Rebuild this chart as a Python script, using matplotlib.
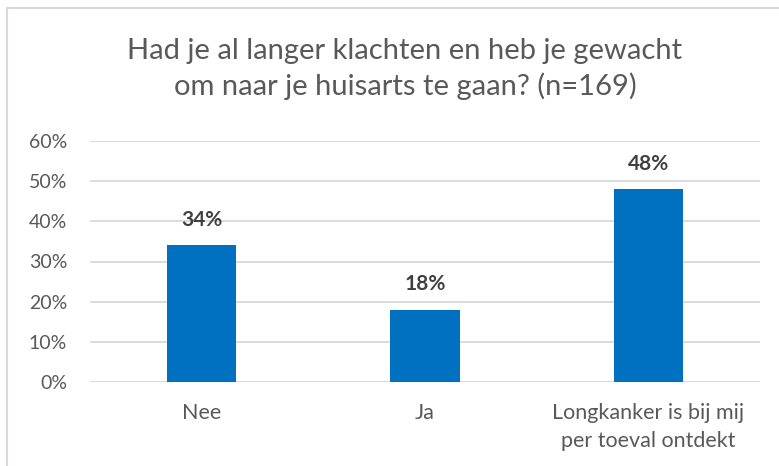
import matplotlib
matplotlib.use("Agg")
import matplotlib.pyplot as plt
from matplotlib.lines import Line2D

categories = ["Nee", "Ja", "Longkanker is bij mij\nper toeval ontdekt"]
values = [34, 18, 48]
value_labels = ["34%", "18%", "48%"]
yticks = [0, 10, 20, 30, 40, 50, 60]
ytick_labels = ["0%", "10%", "20%", "30%", "40%", "50%", "60%"]
title = "Had je al langer klachten en heb je gewacht\nom naar je huisarts te gaan? (n=169)"

plt.rcParams['font.family'] = ['Lato', 'DejaVu Sans']

fig = plt.figure(figsize=(7.79, 4.66), dpi=100)
ax = fig.add_axes([90/779, 1-382/466, 670/779, 241/466])

x = list(range(len(categories)))
ax.bar(x, values, width=0.31, color="#0070C0", zorder=3)
for xi, v, lab in zip(x, values, value_labels):
    ax.text(xi, v + 4.8, lab, ha="center", va="baseline", fontsize=15,
            fontweight="bold", color="#404040", zorder=4)

ax.set_xlim(-0.5, len(categories) - 0.5)
ax.set_ylim(0, 60)
ax.set_yticks(yticks)
ax.set_yticklabels(ytick_labels, fontsize=14, color="#595959")
ax.set_xticks(x)
ax.set_xticklabels(categories, fontsize=15.5, color="#595959", linespacing=1.5)
ax.tick_params(axis="both", length=0)
ax.tick_params(axis="y", pad=16.5)
ax.tick_params(axis="x", pad=15)
ax.yaxis.grid(True, color="#D9D9D9", linewidth=1.3, zorder=0)
for s in ax.spines.values():
    s.set_visible(False)
ax.axhline(0, color="#D9D9D9", linewidth=1.3, zorder=2)

fig.text(405/779, 1-38/466, title, ha="center", va="top", fontsize=21,
         color="#595959", linespacing=1.38)

# chart border (top and left visible)
fig.add_artist(Line2D([7/779, 7/779], [0, 1-8/466], transform=fig.transFigure,
                      color="#D9D9D9", linewidth=1.5))
fig.add_artist(Line2D([7/779, 1], [1-8/466, 1-8/466], transform=fig.transFigure,
                      color="#D9D9D9", linewidth=1.5))

fig.savefig("out.png", dpi=100)
